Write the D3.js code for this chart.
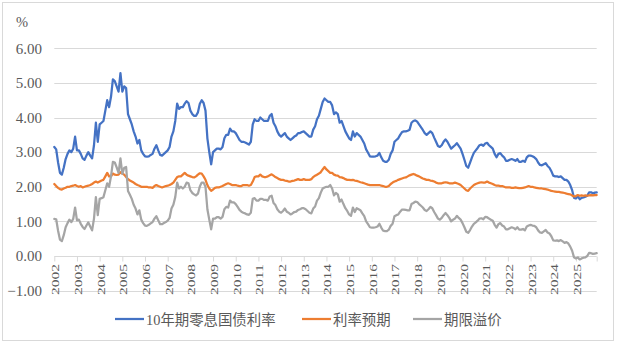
<!DOCTYPE html>
<html>
<head>
<meta charset="utf-8">
<script src="https://cdn.jsdelivr.net/npm/d3@7"></script>
<style>
  html, body { margin: 0; padding: 0; background: #fff; }
  svg { display: block; }
</style>
</head>
<body>
<svg id="chart" width="619" height="346"></svg>
<script>
// Monthly series, Jan 2002 – Dec 2025 (%)
const yield10y = [
  3.15,3.08,2.70,2.40,2.35,2.55,2.80,2.95,3.05,3.00,3.10,3.45,
  3.05,3.05,2.95,2.82,2.78,2.90,3.00,2.90,2.82,3.20,3.85,3.30,
  3.80,3.85,3.90,4.20,4.50,4.30,4.60,5.10,5.05,4.90,4.75,5.28,
  4.75,4.90,4.85,4.10,3.95,3.80,3.60,3.45,3.25,3.35,3.05,2.95,
  2.88,2.87,2.88,2.92,2.95,3.10,3.20,3.05,2.92,2.90,2.95,3.00,
  3.05,3.15,3.45,3.60,3.90,4.40,4.25,4.30,4.30,4.40,4.47,4.42,
  4.20,4.10,4.05,4.05,4.15,4.40,4.50,4.42,4.20,3.40,3.00,2.65,
  3.00,3.05,3.10,3.10,3.08,3.15,3.40,3.50,3.50,3.68,3.60,3.60,
  3.55,3.45,3.35,3.30,3.30,3.28,3.25,3.22,3.30,3.80,3.95,3.90,
  3.90,4.00,3.95,3.90,3.90,3.90,4.05,4.10,3.85,3.75,3.60,3.50,
  3.45,3.50,3.55,3.45,3.40,3.35,3.40,3.45,3.48,3.55,3.55,3.58,
  3.60,3.55,3.50,3.45,3.45,3.65,3.75,3.95,4.05,4.25,4.45,4.55,
  4.50,4.45,4.45,4.35,4.10,4.15,4.10,3.85,3.90,3.75,3.60,3.50,
  3.40,3.35,3.60,3.45,3.55,3.50,3.45,3.35,3.25,3.08,2.98,2.88,
  2.87,2.87,2.88,2.90,2.98,2.85,2.75,2.72,2.72,2.78,2.95,3.05,
  3.30,3.35,3.40,3.50,3.58,3.60,3.60,3.62,3.65,3.85,3.90,3.92,
  3.88,3.80,3.72,3.64,3.55,3.50,3.55,3.60,3.55,3.42,3.30,3.18,
  3.15,3.20,3.30,3.37,3.30,3.20,3.10,3.15,3.20,3.26,3.18,3.10,
  2.95,2.78,2.60,2.55,2.70,2.85,2.98,3.05,3.12,3.20,3.22,3.18,
  3.25,3.27,3.20,3.15,3.10,2.95,2.85,2.95,2.97,2.90,2.85,2.75,
  2.75,2.78,2.80,2.78,2.75,2.80,2.72,2.72,2.75,2.72,2.85,2.90,
  2.90,2.88,2.85,2.80,2.70,2.63,2.62,2.65,2.68,2.60,2.55,2.45,
  2.32,2.30,2.30,2.28,2.30,2.25,2.20,2.20,2.15,2.05,1.90,1.68,
  1.66,1.72,1.64,1.68,1.69,1.71,1.74,1.84,1.84,1.81,1.83,1.84
];

const rateExpect = [
  2.08,2.02,1.97,1.93,1.92,1.95,1.97,2.00,2.00,2.02,2.03,2.05,
  2.02,2.00,2.02,1.98,2.00,2.02,2.03,2.05,2.08,2.12,2.15,2.12,
  2.15,2.18,2.20,2.30,2.40,2.30,2.30,2.38,2.35,2.34,2.35,2.42,
  2.38,2.35,2.28,2.22,2.18,2.15,2.12,2.08,2.05,2.03,2.00,2.00,
  2.00,2.00,1.98,1.98,1.97,2.02,2.05,2.02,2.00,1.98,2.00,2.02,
  2.03,2.05,2.08,2.12,2.20,2.28,2.30,2.30,2.35,2.40,2.35,2.32,
  2.30,2.28,2.27,2.30,2.35,2.39,2.38,2.30,2.20,2.05,1.95,1.88,
  1.92,1.97,1.98,1.98,2.00,2.02,2.05,2.08,2.10,2.08,2.05,2.05,
  2.05,2.03,2.02,2.02,2.05,2.05,2.05,2.03,2.05,2.15,2.28,2.30,
  2.30,2.35,2.30,2.28,2.28,2.30,2.33,2.36,2.32,2.28,2.25,2.22,
  2.20,2.20,2.18,2.17,2.15,2.15,2.17,2.18,2.20,2.22,2.20,2.20,
  2.22,2.20,2.20,2.20,2.22,2.28,2.32,2.35,2.38,2.42,2.50,2.57,
  2.50,2.45,2.40,2.40,2.35,2.33,2.32,2.28,2.27,2.25,2.22,2.20,
  2.20,2.19,2.20,2.18,2.17,2.15,2.13,2.12,2.10,2.08,2.06,2.05,
  2.05,2.05,2.05,2.05,2.05,2.03,2.02,2.00,2.00,2.02,2.08,2.12,
  2.15,2.17,2.20,2.22,2.24,2.26,2.27,2.30,2.33,2.35,2.37,2.35,
  2.32,2.30,2.27,2.24,2.22,2.20,2.20,2.18,2.17,2.15,2.12,2.10,
  2.10,2.10,2.12,2.13,2.12,2.10,2.10,2.10,2.12,2.10,2.08,2.05,
  2.00,1.95,1.90,1.88,1.95,2.00,2.05,2.08,2.10,2.12,2.13,2.12,
  2.12,2.15,2.12,2.10,2.08,2.05,2.03,2.03,2.02,2.02,2.00,1.98,
  1.98,1.98,1.97,1.97,1.98,1.97,1.96,1.96,1.97,1.98,2.00,2.02,
  2.00,2.00,1.98,1.97,1.96,1.95,1.95,1.94,1.93,1.92,1.90,1.88,
  1.87,1.86,1.85,1.85,1.84,1.83,1.82,1.80,1.79,1.78,1.75,1.72,
  1.73,1.76,1.74,1.75,1.74,1.75,1.74,1.75,1.76,1.75,1.76,1.76
];

const termPremium = [
  1.07,1.06,0.73,0.47,0.43,0.60,0.83,0.95,1.05,0.98,1.07,1.40,
  1.03,1.05,0.93,0.84,0.78,0.88,0.97,0.85,0.74,1.08,1.70,1.18,
  1.65,1.67,1.70,1.90,2.10,2.00,2.30,2.72,2.70,2.56,2.40,2.82,
  2.37,2.55,2.57,1.88,1.77,1.65,1.48,1.37,1.20,1.32,1.05,0.95,
  0.88,0.87,0.90,0.94,0.98,1.08,1.15,1.03,0.92,0.92,0.95,0.98,
  1.02,1.10,1.37,1.48,1.70,2.12,1.95,2.00,1.95,2.00,2.12,2.10,
  1.90,1.82,1.78,1.75,1.80,2.01,2.12,2.12,2.00,1.35,1.05,0.77,
  1.08,1.08,1.12,1.12,1.08,1.13,1.35,1.42,1.40,1.60,1.55,1.55,
  1.50,1.42,1.33,1.28,1.25,1.23,1.20,1.19,1.25,1.65,1.67,1.60,
  1.60,1.65,1.65,1.62,1.62,1.60,1.72,1.74,1.53,1.47,1.35,1.28,
  1.25,1.30,1.37,1.28,1.25,1.20,1.23,1.27,1.28,1.33,1.35,1.38,
  1.38,1.35,1.30,1.25,1.23,1.37,1.43,1.60,1.67,1.83,1.95,1.98,
  2.00,2.00,2.05,1.95,1.75,1.82,1.78,1.57,1.63,1.50,1.38,1.30,
  1.20,1.16,1.40,1.27,1.38,1.35,1.32,1.23,1.15,1.00,0.92,0.83,
  0.82,0.82,0.83,0.85,0.93,0.82,0.73,0.72,0.72,0.76,0.87,0.93,
  1.15,1.18,1.20,1.28,1.34,1.34,1.33,1.32,1.32,1.50,1.53,1.57,
  1.56,1.50,1.45,1.40,1.33,1.30,1.35,1.42,1.38,1.27,1.18,1.08,
  1.05,1.10,1.18,1.24,1.18,1.10,1.00,1.05,1.08,1.16,1.10,1.05,
  0.95,0.83,0.70,0.67,0.75,0.85,0.93,0.97,1.02,1.08,1.09,1.06,
  1.13,1.12,1.08,1.05,1.02,0.90,0.82,0.92,0.95,0.88,0.85,0.77,
  0.77,0.80,0.83,0.81,0.77,0.83,0.76,0.76,0.78,0.74,0.85,0.88,
  0.90,0.88,0.87,0.83,0.74,0.68,0.67,0.71,0.75,0.68,0.65,0.57,
  0.45,0.44,0.45,0.43,0.46,0.42,0.38,0.40,0.36,0.27,0.15,-0.04,
  -0.07,-0.04,-0.10,-0.07,-0.05,-0.04,0.00,0.09,0.08,0.06,0.07,0.08
];

const yearLabels = ["2002","2003","2004","2005","2006","2007","2008","2009","2010","2011","2012","2013",
                    "2014","2015","2016","2017","2018","2019","2020","2021","2022","2023","2024","2025"];
const yTicks = [6, 5, 4, 3, 2, 1, 0, -1];
const seriesNames = ["10年期零息国债利率", "利率预期", "期限溢价"];
const seriesColors = ["#4472C4", "#ED7D31", "#A5A5A5"];
const unitLabel = "%";

const svg = d3.select("#chart");
const textColor = "#595959";
const serif = "'Liberation Serif', 'Times New Roman', 'Noto Sans CJK SC', serif";

// outer chart frame
svg.append("rect")
  .attr("x", 2.5).attr("y", 2.5)
  .attr("width", 611).attr("height", 338)
  .attr("fill", "#fff").attr("stroke", "#D9D9D9").attr("stroke-width", 1);

const nPts = yield10y.length;
const x = d3.scaleLinear().domain([0, nPts - 1]).range([54.3, 596.7]);
const y = d3.scaleLinear().domain([-1, 6]).range([290.6, 48.3]);

// horizontal gridlines
svg.append("g")
  .selectAll("line")
  .data(yTicks.filter(v => v !== 0))
  .join("line")
  .attr("x1", x.range()[0]).attr("x2", x.range()[1])
  .attr("y1", d => Math.round(y(d)) + 0.5).attr("y2", d => Math.round(y(d)) + 0.5)
  .attr("stroke", "#D9D9D9").attr("stroke-width", 1);

// y-axis labels
const yAxis = d3.axisLeft(y).tickValues(yTicks).tickSize(0).tickPadding(0)
  .tickFormat(d3.format(".2f"));
const gy = svg.append("g").attr("transform", "translate(42,0)").call(yAxis);
gy.select(".domain").remove();
gy.selectAll("text")
  .attr("fill", textColor)
  .style("font-family", serif)
  .style("font-size", "15px");

// unit label
svg.append("text")
  .attr("x", 16).attr("y", 27)
  .attr("fill", textColor)
  .style("font-family", serif)
  .style("font-size", "14.5px")
  .text(unitLabel);

// category (date) axis on the zero line
const yearIdx = yearLabels.map((_, i) => i * 12);
const xAxis = d3.axisBottom(x)
  .tickValues(yearIdx.concat([nPts - 1]))
  .tickSize(5)
  .tickFormat(() => "");
const gx = svg.append("g")
  .attr("transform", `translate(0,${Math.round(y(0)) + 0.5})`)
  .call(xAxis);
gx.select(".domain").attr("stroke", "#D9D9D9").attr("d", `M${x.range()[0]},0H${x.range()[1]}`);
gx.selectAll(".tick line").attr("stroke", "#D9D9D9");

// rotated year labels
svg.append("g")
  .selectAll("text")
  .data(yearLabels)
  .join("text")
  .attr("transform", (d, i) => `translate(${x(i * 12) + 5},264) rotate(-90)`)
  .attr("text-anchor", "end")
  .attr("textLength", 31)
  .attr("lengthAdjust", "spacingAndGlyphs")
  .attr("fill", textColor)
  .style("font-family", serif)
  .style("font-size", "11px")
  .text(d => d);

// series lines
const seriesData = [yield10y, rateExpect, termPremium];
const line = d3.line().x((d, i) => x(i)).y(d => y(d)).curve(d3.curveLinear);
svg.append("g")
  .selectAll("path")
  .data(seriesData)
  .join("path")
  .attr("d", d => line(d))
  .attr("fill", "none")
  .attr("stroke", (d, i) => seriesColors[i])
  .attr("stroke-width", 2.25)
  .attr("stroke-linejoin", "round")
  .attr("stroke-linecap", "round");

// legend
const legendX = [115, 302, 413];
const legend = svg.append("g")
  .selectAll("g")
  .data(seriesNames)
  .join("g")
  .attr("transform", (d, i) => `translate(${legendX[i]},319)`);
legend.append("line")
  .attr("x1", 0).attr("x2", 29)
  .attr("y1", 0).attr("y2", 0)
  .attr("stroke", (d, i) => seriesColors[i])
  .attr("stroke-width", 2.25);
legend.append("text")
  .attr("x", 31).attr("y", 5.5)
  .attr("fill", textColor)
  .style("font-family", serif)
  .style("font-size", "14.4px")
  .text(d => d);
</script>
</body>
</html>
